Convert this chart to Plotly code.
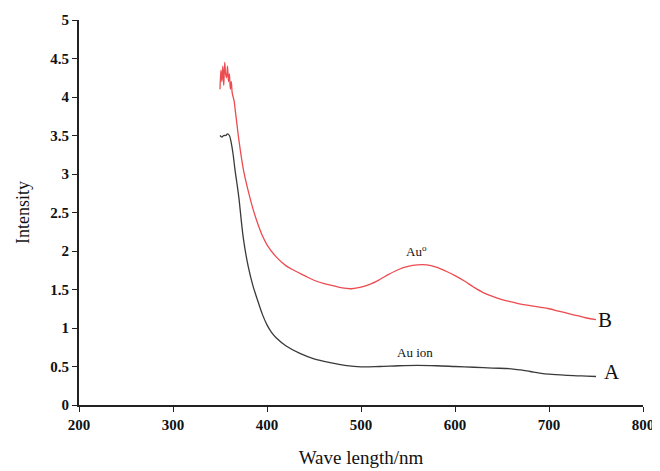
import plotly.graph_objects as go

wl_a = [350,352,354,356,358,360,362,364,366,368,370,375,380,385,390,395,400,405,410,420,435,450,470,485,500,520,540,560,580,600,620,640,660,670,680,690,700,720,740,750]
int_a = [3.5,3.48,3.5,3.5,3.52,3.5,3.4,3.25,3.05,2.88,2.7,2.15,1.8,1.55,1.36,1.18,1.04,0.94,0.87,0.77,0.67,0.6,0.545,0.51,0.495,0.5,0.51,0.515,0.51,0.5,0.49,0.48,0.47,0.455,0.435,0.415,0.4,0.385,0.375,0.37]

wl_b = [350,351,352,353,354,355,356,357,358,359,360,361,362,363,364,365,366,368,370,375,380,385,390,395,400,410,420,430,440,450,460,470,480,490,500,510,520,530,540,550,560,570,580,590,600,610,620,630,640,650,660,670,680,690,700,710,720,730,740,750]
int_b = [4.1,4.35,4.2,4.4,4.15,4.45,4.3,4.25,4.4,4.2,4.3,4.1,4.2,4.05,4.0,3.95,3.85,3.65,3.45,3.05,2.78,2.55,2.36,2.2,2.08,1.92,1.81,1.74,1.68,1.62,1.58,1.55,1.52,1.51,1.53,1.57,1.63,1.7,1.76,1.8,1.82,1.82,1.79,1.74,1.68,1.61,1.53,1.46,1.41,1.37,1.34,1.31,1.29,1.27,1.25,1.22,1.19,1.16,1.13,1.11]

x_ticks = [200,300,400,500,600,700,800]
y_ticks = [0,0.5,1,1.5,2,2.5,3,3.5,4,4.5,5]

fig = go.Figure()
fig.add_trace(go.Scatter(x=wl_a, y=int_a, mode="lines", line=dict(color="#3a3a3a", width=1.3, shape="spline", smoothing=1), name="A"))
fig.add_trace(go.Scatter(x=wl_b, y=int_b, mode="lines", line=dict(color="#ec4b50", width=1.3, shape="spline", smoothing=1), name="B"))

serif = "Liberation Serif"
fig.add_annotation(x=559, y=2.0, text="Au<sup>o</sup>", showarrow=False, font=dict(family=serif, size=13, color="#111"))
fig.add_annotation(x=557, y=0.68, text="Au ion", showarrow=False, font=dict(family=serif, size=13, color="#111"))
fig.add_annotation(x=760, y=1.1, text="B", showarrow=False, font=dict(family=serif, size=21, color="#111"))
fig.add_annotation(x=767, y=0.43, text="A", showarrow=False, font=dict(family=serif, size=21, color="#111"))

fig.update_layout(
    width=652, height=463,
    margin=dict(l=71, r=17, t=12, b=66, autoexpand=False),
    paper_bgcolor="white", plot_bgcolor="white",
    showlegend=False,
    font=dict(family=serif, color="#111"),
)
fig.update_xaxes(range=[200, 800], tickvals=x_ticks, ticktext=[f"<b>{v}</b>" for v in x_ticks],
                 showgrid=False, zeroline=False, showline=True, linecolor="#222", linewidth=2,
                 ticks="outside", ticklen=5, tickcolor="#222", tickfont=dict(family=serif, size=15),
                 automargin=False,
                 title=dict(text="Wave length/nm", font=dict(family=serif, size=19), standoff=19))
fig.update_yaxes(range=[0, 5], tickvals=y_ticks, ticktext=[f"<b>{v:g}</b>" for v in y_ticks],
                 showgrid=False, zeroline=False, showline=True, linecolor="#222", linewidth=2,
                 ticks="outside", ticklen=5, tickcolor="#222", tickfont=dict(family=serif, size=15),
                 automargin=False,
                 title=dict(text="Intensity", font=dict(family=serif, size=18), standoff=16))

fig.write_html("out.html")
